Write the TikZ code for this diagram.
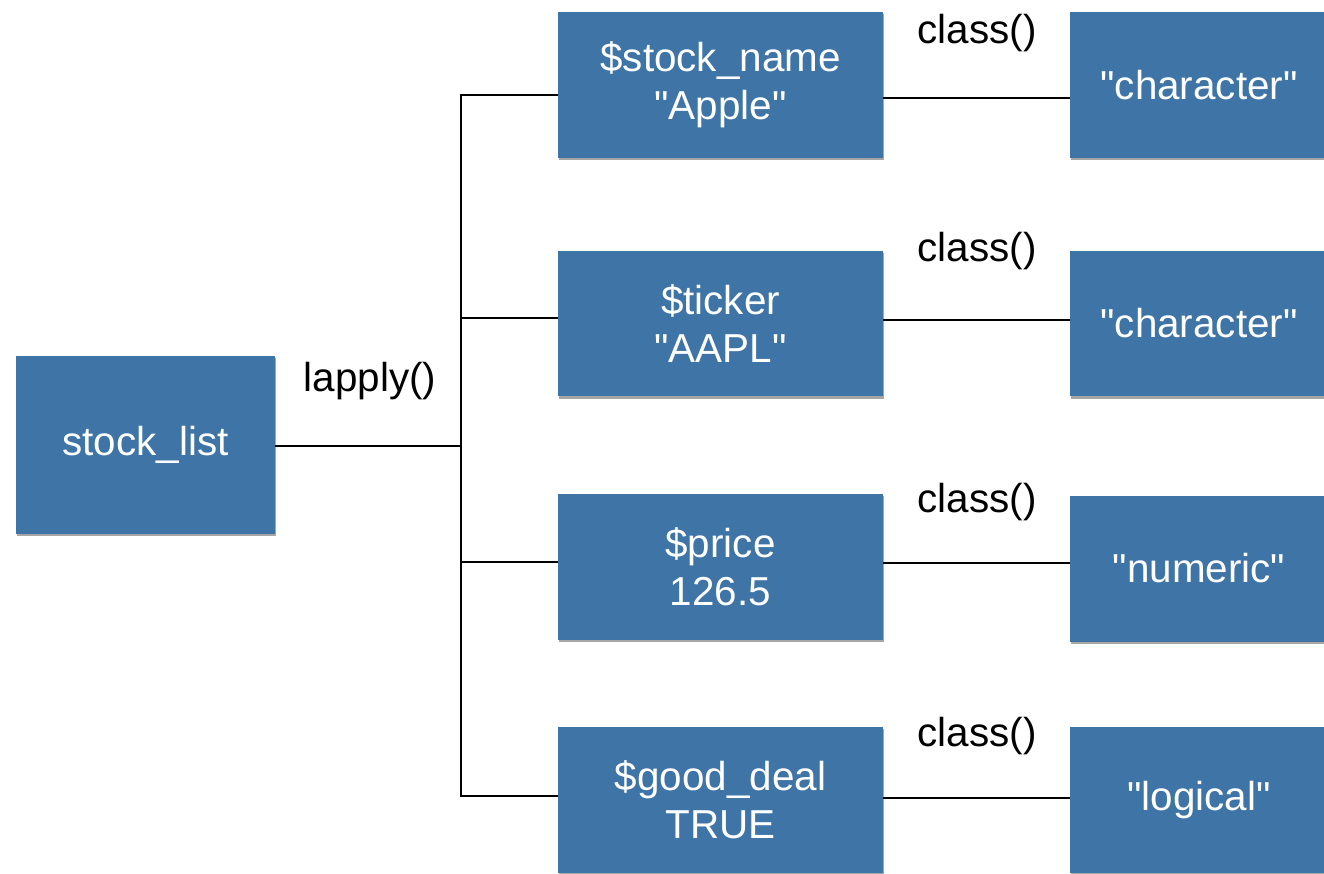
\documentclass[tikz,border=0pt]{standalone}
\usepackage{fontspec}
\setmainfont{Liberation Sans}[Ligatures=TeXOff]
\usetikzlibrary{shadows}
\definecolor{boxblue}{HTML}{3F74A7}
\tikzset{
  box/.style={fill=boxblue, text=white, align=center, inner sep=0pt,
    font=\fontsize{23}{27.5}\selectfont,
    drop shadow={shadow xshift=0.6pt, shadow yshift=-1.2pt, opacity=0.35, fill=black}},
  wide/.style={box, minimum width=6.5cm, minimum height=2.92cm},
  res/.style={box, minimum width=5.16cm, minimum height=2.92cm},
  lbl/.style={text=black, font=\fontsize{23}{27.5}\selectfont, inner sep=0pt},
  conn/.style={draw=black, line width=1.3pt}
}
\begin{document}
\begin{tikzpicture}[x=0.02cm,y=-0.02cm]
\clip (0,0) rectangle (1324,873);
\fill[white] (0,0) rectangle (1324,873);
\node[box, minimum width=5.18cm, minimum height=3.56cm] (sl) at (145.5,445) {stock\_list};
\node[wide] (b1) at (720.5,85) {\$stock\_name\\"Apple"};
\node[wide] (b2) at (720.5,323.5) {\$ticker\\"AAPL"};
\node[wide] (b3) at (720.5,566.5) {\$price\\126.5};
\node[wide] (b4) at (720.5,800) {\$good\_deal\\TRUE};
\node[res] (r1) at (1199,85) {"character"};
\node[res] (r2) at (1199,323.5) {"character"};
\node[res] (r3) at (1199,568.5) {"numeric"};
\node[res] (r4) at (1199,800) {"logical"};
\coordinate (j0) at (461,446);
\coordinate (jt) at (461,95);
\coordinate (jb) at (461,796);
\coordinate (j2) at (461,318);
\coordinate (j3) at (461,562);
\coordinate (k1) at (900,98);
\coordinate (k2) at (900,320);
\coordinate (k3) at (900,563);
\coordinate (k4) at (900,798);
\draw[conn] (sl.east |- j0) -- (j0);
\draw[conn] (jt -| b1.west) -- (jt) -- (jb) -- (jb -| b4.west);
\draw[conn] (j2) -- (j2 -| b2.west);
\draw[conn] (j3) -- (j3 -| b3.west);
\draw[conn] (k1 -| b1.east) -- (k1 -| r1.west);
\draw[conn] (k2 -| b2.east) -- (k2 -| r2.west);
\draw[conn] (k3 -| b3.east) -- (k3 -| r3.west);
\draw[conn] (k4 -| b4.east) -- (k4 -| r4.west);
\node[lbl] (la) at (370,381) {lapply()};
\node[lbl] (c1) at (977,33) {class()};
\node[lbl] (c2) at (977,251) {class()};
\node[lbl] (c3) at (977,502) {class()};
\node[lbl] (c4) at (977,736) {class()};
\end{tikzpicture}
\end{document}
